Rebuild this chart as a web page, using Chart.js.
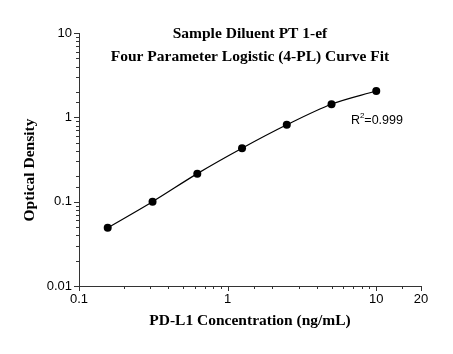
<!DOCTYPE html>
<html>
<head>
<meta charset="utf-8">
<script src="https://cdn.jsdelivr.net/npm/chart.js@4"></script>
<style>
  html, body { margin: 0; padding: 0; background: #fff; }
  #wrap { width: 453px; height: 354px; }
</style>
</head>
<body>
<div id="wrap"><canvas id="curve"></canvas></div>
<script>
// concentrations (ng/mL) and measured OD
const concentrations = [0.156, 0.3125, 0.625, 1.25, 2.5, 5, 10];
const opticalDensity = [0.049, 0.100, 0.215, 0.430, 0.815, 1.43, 2.05];
const xTickLabels = [0.1, 1, 10, 20];
const yTickLabels = [0.01, 0.1, 1, 10];
const chartTitle = ['Sample Diluent PT 1-ef', 'Four Parameter Logistic (4-PL) Curve Fit'];
const xTitle = 'PD-L1 Concentration (ng/mL)';
const yTitle = 'Optical Density';
const rSquared = '0.999';
const rSquaredAt = { x: 6.75, y: 0.92 };

const SERIF = '"Liberation Serif", "Times New Roman", serif';
const SANS = '"Liberation Sans", Arial, sans-serif';

const isLabelled = (v, list) => list.some(t => Math.abs(Math.log10(v) - Math.log10(t)) < 1e-6);

// tick marks, titles and R² text drawn on top of the chart
const extras = {
  id: 'extras',
  afterDraw(chart) {
    const { ctx, chartArea, scales } = chart;
    const x = scales.x, y = scales.y;
    ctx.save();
    ctx.strokeStyle = '#333';
    ctx.lineWidth = 1;
    ctx.beginPath();
    x.ticks.forEach(t => {
      const px = Math.round(x.getPixelForValue(t.value)) + 0.5;
      const len = isLabelled(t.value, xTickLabels) ? 5 : 3;
      ctx.moveTo(px, chartArea.bottom);
      ctx.lineTo(px, chartArea.bottom + len);
    });
    y.ticks.forEach(t => {
      const py = Math.round(y.getPixelForValue(t.value)) + 0.5;
      const len = isLabelled(t.value, yTickLabels) ? 5 : 3;
      ctx.moveTo(chartArea.left - len, py);
      ctx.lineTo(chartArea.left, py);
    });
    ctx.stroke();

    // title inside the plot box
    ctx.fillStyle = '#000';
    ctx.font = 'bold 15.5px ' + SERIF;
    ctx.textAlign = 'center';
    ctx.textBaseline = 'middle';
    const cx = (chartArea.left + chartArea.right) / 2;
    ctx.fillText(chartTitle[0], cx, 34);
    ctx.fillText(chartTitle[1], cx, 57);

    // axis titles
    ctx.fillText(xTitle, cx, 321);
    ctx.save();
    ctx.translate(30, 170);
    ctx.rotate(-Math.PI / 2);
    ctx.fillText(yTitle, 0, 0);
    ctx.restore();

    // R² label
    const rx = x.getPixelForValue(rSquaredAt.x);
    const ry = y.getPixelForValue(rSquaredAt.y);
    ctx.textAlign = 'left';
    ctx.font = '12.5px ' + SANS;
    ctx.fillText('R', rx, ry);
    const rw = ctx.measureText('R').width;
    ctx.font = '8px ' + SANS;
    ctx.fillText('2', rx + rw, ry - 5);
    const sw = ctx.measureText('2').width;
    ctx.font = '12.5px ' + SANS;
    ctx.fillText('=' + rSquared, rx + rw + sw, ry);
    ctx.restore();
  }
};

const ctx = document.getElementById('curve');
new Chart(ctx, {
  type: 'scatter',
  data: {
    datasets: [{
      data: concentrations.map((c, i) => ({ x: c, y: opticalDensity[i] })),
      showLine: true,
      cubicInterpolationMode: 'monotone',
      borderColor: '#000',
      borderWidth: 1.2,
      pointRadius: 4,
      pointBackgroundColor: '#000',
      pointBorderColor: '#000',
      pointBorderWidth: 0,
    }],
  },
  options: {
    responsive: true,
    maintainAspectRatio: false,
    animation: false,
    layout: { padding: { top: 33, right: 32, left: 0, bottom: 0 } },
    plugins: {
      legend: { display: false },
      tooltip: { enabled: false },
    },
    scales: {
      x: {
        type: 'logarithmic',
        min: 0.1,
        max: 20,
        afterFit: s => { s.height = 68; },
        border: { display: true, color: '#333', width: 1 },
        grid: { display: false, drawTicks: false },
        ticks: {
          autoSkip: false,
          maxRotation: 0,
          padding: 6,
          color: '#000',
          font: { family: SANS, size: 13 },
          callback: v => isLabelled(v, xTickLabels) ? String(+v) : '',
        },
      },
      y: {
        type: 'logarithmic',
        min: 0.01,
        max: 10,
        afterFit: s => { s.width = 79; },
        border: { display: true, color: '#333', width: 1 },
        grid: { display: false, drawTicks: false },
        ticks: {
          autoSkip: false,
          padding: 7,
          color: '#000',
          font: { family: SANS, size: 13 },
          callback: v => isLabelled(v, yTickLabels) ? String(+v) : '',
        },
      },
    },
  },
  plugins: [extras],
});
</script>
</body>
</html>
